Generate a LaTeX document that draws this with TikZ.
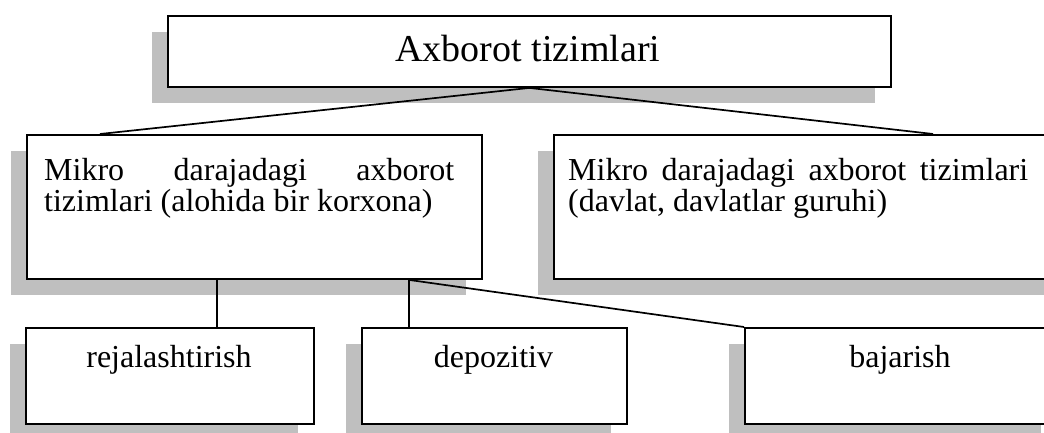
\documentclass[tikz,border=0pt]{standalone}
\usepackage{fontspec}
\setmainfont{Liberation Serif}
\usetikzlibrary{shadows}
\newcommand{\nohyphmode}{\hyphenpenalty=10000\relax\exhyphenpenalty=10000\relax}
\tikzset{
  box/.style={draw=black, line width=1.9pt, fill=white, rectangle, inner sep=0pt, anchor=north west,
    drop shadow={shadow xshift=-16pt, shadow yshift=-16pt, fill=black!25, opacity=1}},
  conn/.style={draw=black, line width=1.7pt},
  bigtxt/.style={font=\fontsize{38}{44}\selectfont, inner sep=0pt, anchor=base},
  midtxt/.style={font=\fontsize{32}{31}\selectfont\nohyphmode, inner sep=0pt, anchor=north west, align=justify},
  lowtxt/.style={font=\fontsize{32}{36}\selectfont, inner sep=0pt, anchor=base}
}
\begin{document}
\begin{tikzpicture}[x=1pt,y=-1pt]
\useasboundingbox (0,0) rectangle (1044,432);
\clip (0,0) rectangle (1044,432);
% boxes
\node[box, minimum width=723pt, minimum height=71pt] (T) at (167,15) {};
\node[box, minimum width=455pt, minimum height=144pt] (ML) at (26,134) {};
\node[box, minimum width=510pt, minimum height=144pt] (MR) at (553,134) {};
\node[box, minimum width=288pt, minimum height=96pt] (R) at (25,327) {};
\node[box, minimum width=265pt, minimum height=96pt] (D) at (361,327) {};
\node[box, minimum width=312pt, minimum height=96pt] (B) at (744,327) {};
% texts
\node[bigtxt] (tT) at (528,61) {Axborot tizimlari};
\node[midtxt, text width=410pt] (tML) at (44,158) {Mikro darajadagi axborot tizimlari (alohida bir korxona)};
\node[midtxt, text width=460pt] (tMR) at (568,158) {Mikro darajadagi axborot tizimlari (davlat, davlatlar guruhi)};
\node[lowtxt] (tR) at (169,367) {rejalashtirish};
\node[lowtxt] (tD) at (493.5,367) {depozitiv};
\node[lowtxt] (tB) at (900,367) {bajarish};
% connectors
\coordinate (c1) at ([xshift=74pt]ML.north west);
\coordinate (c2) at ([xshift=380pt]MR.north west);
\draw[conn] (c1) -- (T.south) -- (c2);
\draw[conn] ([xshift=191pt]ML.south west) -- ([xshift=192pt]R.north west);
\draw[conn] ([xshift=383pt]ML.south west) -- ([xshift=48pt]D.north west);
\draw[conn] ([xshift=383pt]ML.south west) -- (B.north west);
\end{tikzpicture}
\end{document}
